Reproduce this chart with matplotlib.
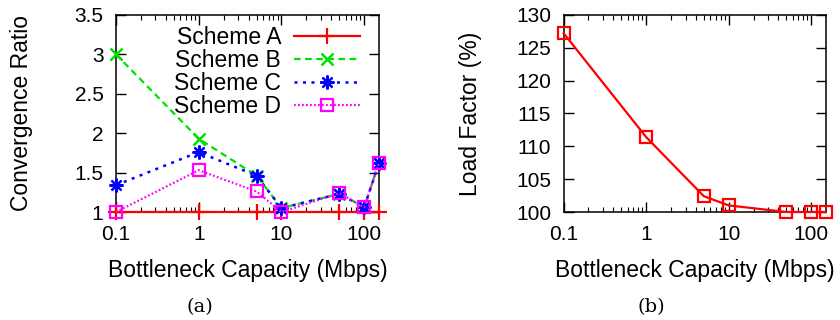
import numpy as np
import matplotlib
matplotlib.use("Agg")
from matplotlib import pyplot as plt
from matplotlib.ticker import FuncFormatter, LogLocator, FixedLocator

# ------------------------------
# Data
# ------------------------------
capacity = [0.1, 1, 5, 10, 50, 100, 150]

scheme_a = [1.0, 1.0, 1.0, 1.0, 1.0, 1.0, 1.0]
scheme_b = [3.0, 1.93, 1.46, 1.05, 1.23, 1.06, 1.62]
scheme_c = [1.34, 1.76, 1.46, 1.05, 1.23, 1.06, 1.62]
scheme_d = [1.0, 1.53, 1.26, 1.0, 1.24, 1.06, 1.62]

load_factor = [127.2, 111.4, 102.4, 101.0, 100.0, 100.0, 100.0]

x_ticks = [0.1, 1, 10, 100]
x_tick_labels = ["0.1", "1", "10", "100"]

plt.rcParams['font.family'] = ['Liberation Sans', 'DejaVu Sans']
plt.rcParams['font.size'] = 15

LABEL_SIZE = 16.5


def style_axes(ax):
    ax.set_xscale('log')
    ax.set_xlim(0.1, 150)
    ax.xaxis.set_major_locator(FixedLocator(x_ticks))
    ax.set_xticklabels(x_tick_labels)
    ax.xaxis.set_minor_locator(LogLocator(base=10, subs=np.arange(2, 10)))
    ax.xaxis.set_minor_formatter(FuncFormatter(lambda v, p: ""))
    ax.tick_params(which='both', direction='in', top=True, right=True, labelsize=15)
    ax.tick_params(which='major', length=7, width=1)
    ax.tick_params(axis='x', which='major', pad=9)
    ax.tick_params(axis='y', which='major', pad=9)
    ax.tick_params(which='minor', length=3.5, width=0.8)
    ax.tick_params(axis='y', which='minor', left=False, right=False)
    for s in ax.spines.values():
        s.set_linewidth(1.1)
    ax.set_xlabel("Bottleneck Capacity (Mbps)", fontsize=LABEL_SIZE, va='center')
    ax.xaxis.set_label_coords(0.5, -0.295)


fig = plt.figure(figsize=(8.4, 3.2), dpi=100)

# ------------------------------
# (a) Convergence ratio
# ------------------------------
ax1 = fig.add_axes([0.138, 0.3375, 0.313, 0.616])
ax1.plot(capacity, scheme_a, color='#ff0000', lw=1.6, ls='-', marker='+', ms=11, mew=1.6,
         label='Scheme A', clip_on=False, zorder=3)
ax1.plot(capacity, scheme_b, color='#00e000', lw=1.6, ls=(0, (3, 2)), marker='x', ms=9, mew=1.8,
         label='Scheme B', clip_on=False, zorder=4)
ax1.plot(capacity, scheme_c, color='#0000ff', lw=1.8, ls=(0, (1.2, 2.2)), marker=(8, 2, 0), ms=10, mew=1.6,
         label='Scheme C', clip_on=False, zorder=5)
ax1.plot(capacity, scheme_d, color='#ff00ff', lw=1.6, ls=(0, (0.8, 1.0)), marker='s', ms=8.5, mew=1.6,
         mfc='none', label='Scheme D', clip_on=False, zorder=6)
style_axes(ax1)
ax1.set_ylim(1, 3.5)
ax1.set_yticks([1, 1.5, 2, 2.5, 3, 3.5])
ax1.yaxis.set_major_formatter(FuncFormatter(lambda v, p: "%g" % v))
ax1.set_ylabel("Convergence Ratio", fontsize=LABEL_SIZE, va='center')
ax1.yaxis.set_label_coords(-0.361, 0.5)
leg = ax1.legend(loc='upper right', bbox_to_anchor=(0.942, 0.962), frameon=False,
                 markerfirst=False, handlelength=2.9, labelspacing=0.0, borderaxespad=0.0,
                 borderpad=0.15, handletextpad=0.55, fontsize=LABEL_SIZE)

# ------------------------------
# (b) Load factor
# ------------------------------
ax2 = fig.add_axes([0.671, 0.3375, 0.312, 0.616])
ax2.plot(capacity, load_factor, color='#ff0000', lw=1.6, marker='s', ms=8.5, mew=1.6, mfc='none',
         clip_on=False, zorder=3)
style_axes(ax2)
ax2.set_ylim(100, 130)
ax2.set_yticks([100, 105, 110, 115, 120, 125, 130])
ax2.set_ylabel("Load Factor (%)", fontsize=LABEL_SIZE, va='center')
ax2.yaxis.set_label_coords(-0.355, 0.5)

fig.text(0.238, 0.04, "(a)", ha='center', va='center', fontsize=14, family='DejaVu Serif')
fig.text(0.775, 0.04, "(b)", ha='center', va='center', fontsize=14, family='DejaVu Serif')

fig.savefig("out.png", dpi=100)
